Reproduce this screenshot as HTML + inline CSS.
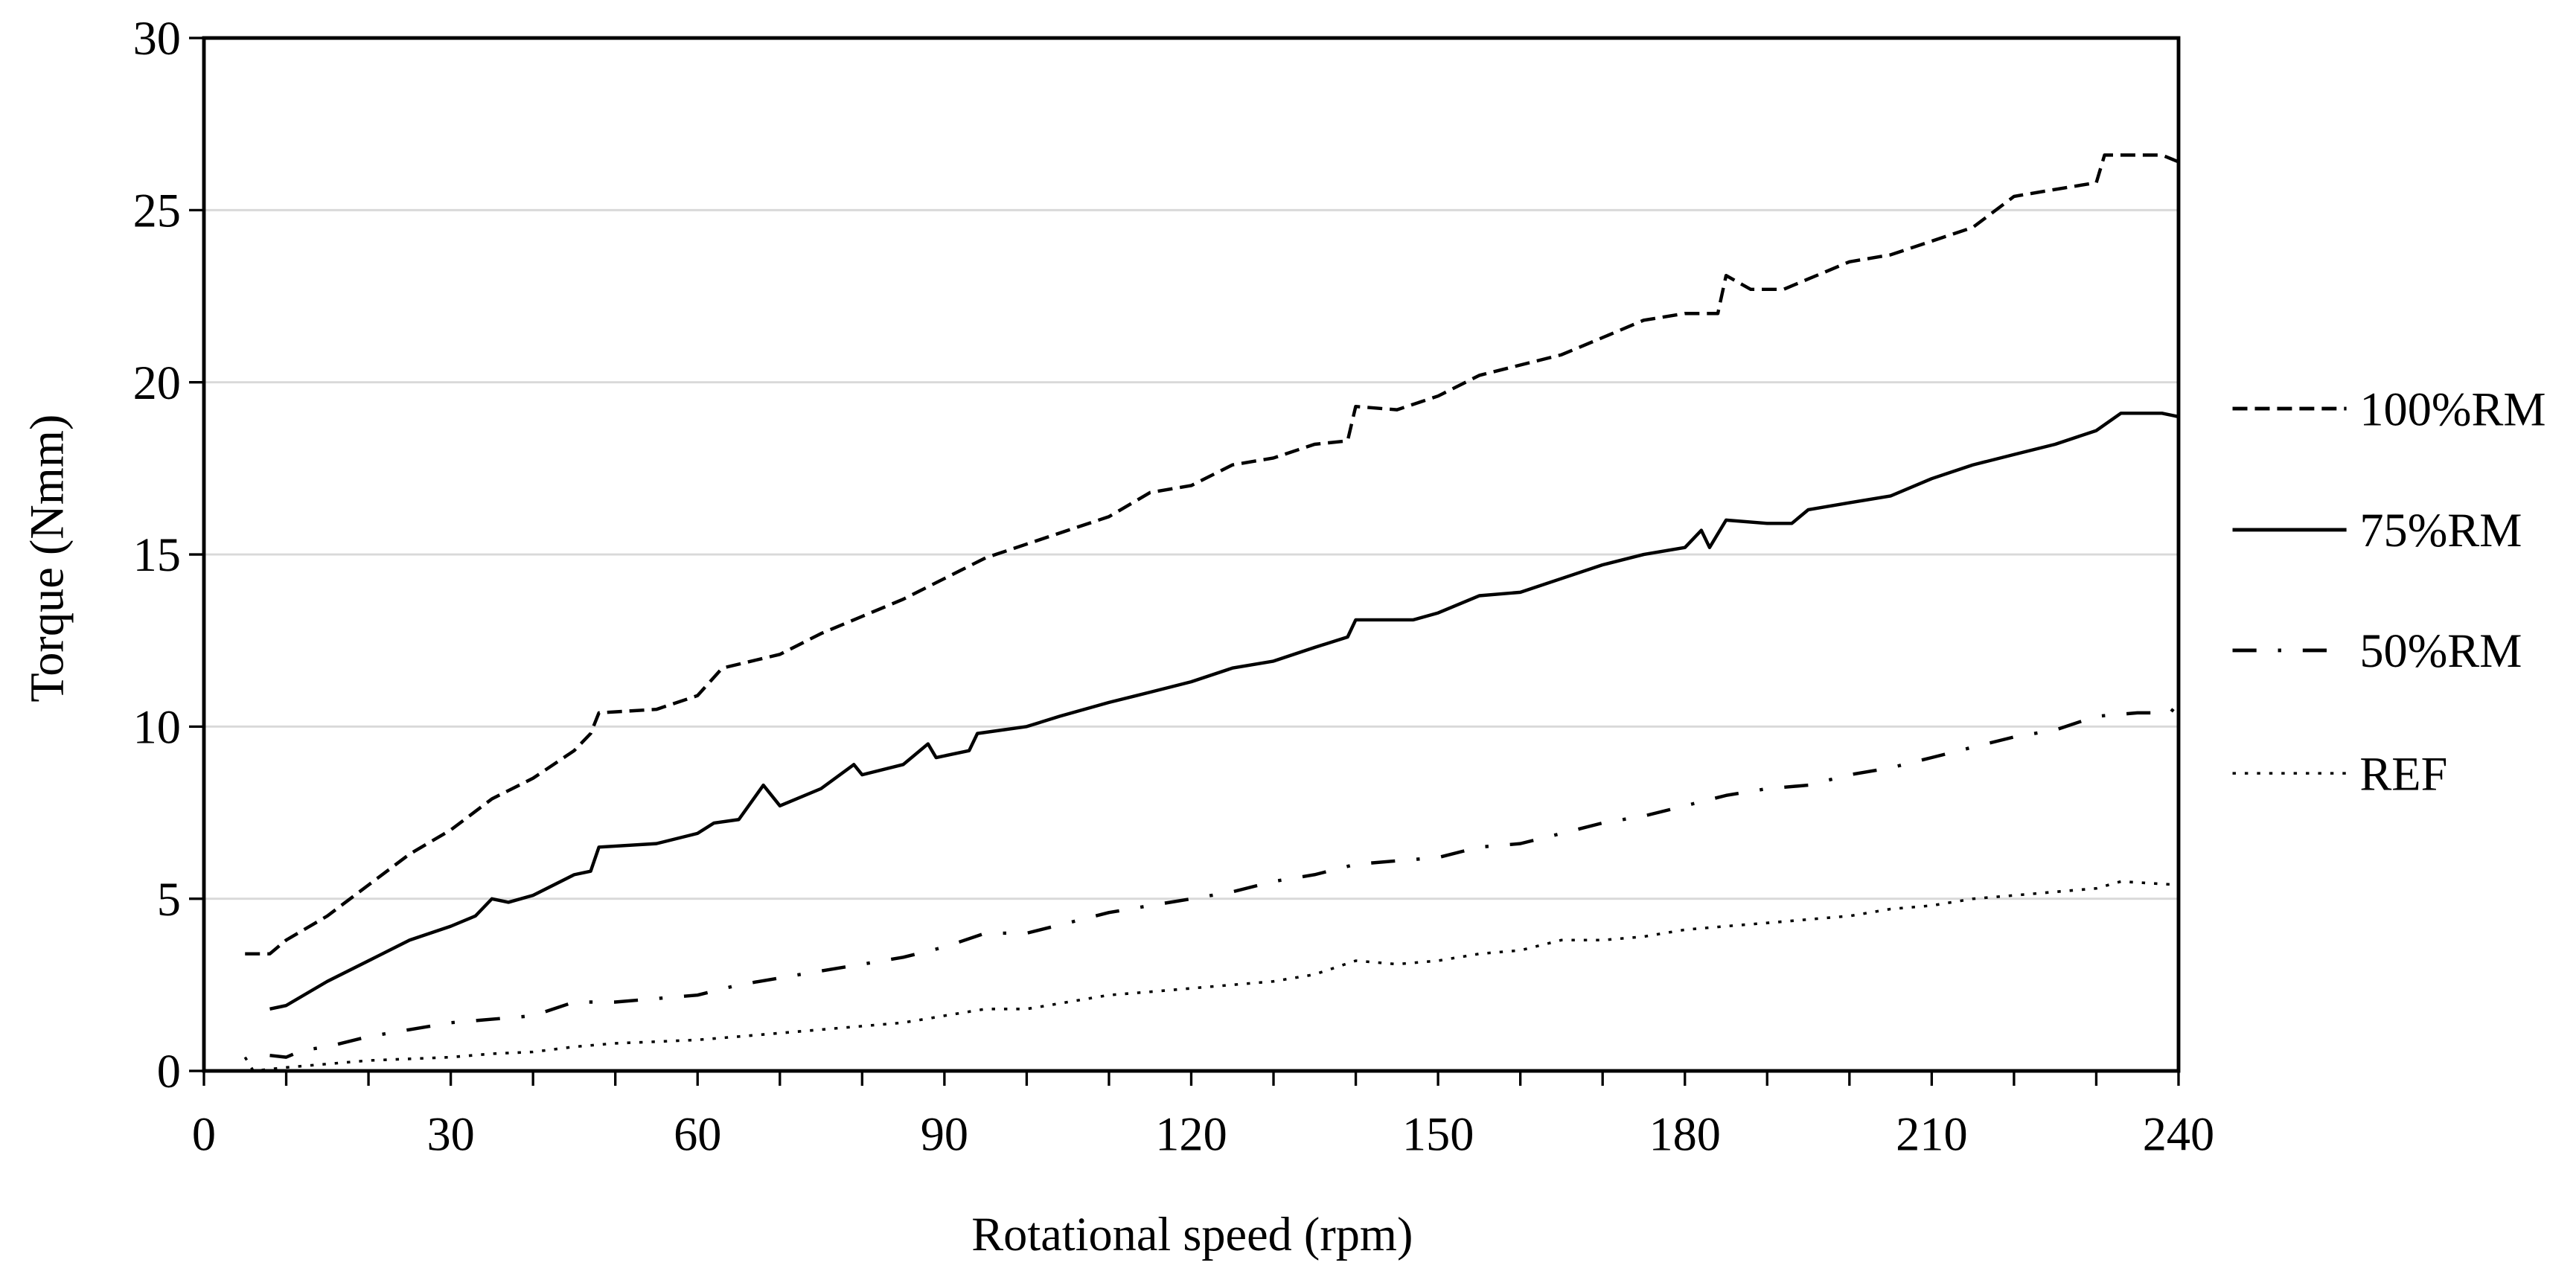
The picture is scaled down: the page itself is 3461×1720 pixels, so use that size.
<!DOCTYPE html>
<html><head><meta charset="utf-8"><style>
html,body{margin:0;padding:0;background:#fff;}
svg{display:block;}
text{font-family:"Liberation Serif",serif;fill:#000;}
</style></head><body>
<svg id="chart" width="3461" height="1720" viewBox="0 0 1560 775" preserveAspectRatio="none" xmlns="http://www.w3.org/2000/svg">
<g id="grid"></g>
<g id="series"></g>
<g id="axes"></g>
<g id="legend"></g>
<text x="722" y="757" font-size="29" text-anchor="middle">Rotational speed (rpm)</text>
<text transform="translate(38,338) rotate(-90)" font-size="29" text-anchor="middle">Torque (Nmm)</text>
</svg>
<script>
const xTicks=[0,30,60,90,120,150,180,210,240];
const yTicks=[0,5,10,15,20,25,30];
const seriesNames=["100%RM","75%RM","50%RM","REF"];
const rm100X=[5,8,10,15,20,25,30,35,40,45,47,48,55,60,63,70,75,80,85,90,95,100,105,110,115,120,125,130,135,139,140,145,150,155,160,165,170,175,180,184,185,188,192,195,200,205,210,215,220,225,230,231,238,240];
const rm100Y=[3.4,3.4,3.8,4.5,5.4,6.3,7.0,7.9,8.5,9.3,9.8,10.4,10.5,10.9,11.7,12.1,12.7,13.2,13.7,14.3,14.9,15.3,15.7,16.1,16.8,17.0,17.6,17.8,18.2,18.3,19.3,19.2,19.6,20.2,20.5,20.8,21.3,21.8,22.0,22.0,23.1,22.7,22.7,23.0,23.5,23.7,24.1,24.5,25.4,25.6,25.8,26.6,26.6,26.4];
const rm75X=[8,10,15,20,25,30,33,35,37,40,45,47,48,55,60,62,65,68,70,75,79,80,85,88,89,93,94,100,104,110,115,120,125,130,135,139,140,147,150,155,160,165,170,175,180,182,183,185,190,193,195,200,205,210,215,220,225,230,233,238,240];
const rm75Y=[1.8,1.9,2.6,3.2,3.8,4.2,4.5,5.0,4.9,5.1,5.7,5.8,6.5,6.6,6.9,7.2,7.3,8.3,7.7,8.2,8.9,8.6,8.9,9.5,9.1,9.3,9.8,10.0,10.3,10.7,11.0,11.3,11.7,11.9,12.3,12.6,13.1,13.1,13.3,13.8,13.9,14.3,14.7,15.0,15.2,15.7,15.2,16.0,15.9,15.9,16.3,16.5,16.7,17.2,17.6,17.9,18.2,18.6,19.1,19.1,19.0];
const rm50X=[8,10,12,15,20,25,30,35,40,45,50,55,60,65,70,75,80,85,90,95,100,105,110,115,120,125,130,135,140,145,150,155,160,165,170,175,180,185,190,195,200,205,210,215,220,225,230,235,239,240];
const rm50Y=[0.45,0.4,0.6,0.7,1.0,1.2,1.4,1.5,1.6,2.0,2.0,2.1,2.2,2.5,2.7,2.9,3.1,3.3,3.6,4.0,4.0,4.3,4.6,4.8,5.0,5.2,5.5,5.7,6.0,6.1,6.2,6.5,6.6,6.9,7.2,7.4,7.7,8.0,8.2,8.3,8.6,8.8,9.1,9.4,9.7,9.9,10.3,10.4,10.4,10.7];
const refX=[5,6,10,15,20,25,30,35,40,45,50,55,60,65,70,75,80,85,90,95,100,105,110,115,120,125,130,135,140,145,150,155,160,165,170,175,180,185,190,195,200,205,210,215,220,225,230,233,240];
const refY=[0.4,0.0,0.1,0.2,0.3,0.35,0.4,0.5,0.55,0.7,0.8,0.85,0.9,1.0,1.1,1.2,1.3,1.4,1.6,1.8,1.8,2.0,2.2,2.3,2.4,2.5,2.6,2.8,3.2,3.1,3.2,3.4,3.5,3.8,3.8,3.9,4.1,4.2,4.3,4.4,4.5,4.7,4.8,5.0,5.1,5.2,5.3,5.5,5.4];

const NS="http://www.w3.org/2000/svg";
const X0=123.5,X1=1319.3,Y0=648.4,Y1=23;
function sx(v){return X0+(X1-X0)*v/240;}
function sy(v){return Y0-(Y0-Y1)*v/30;}
function mk(tag,attrs,parent){const e=document.createElementNS(NS,tag);for(const k in attrs)e.setAttribute(k,attrs[k]);parent.appendChild(e);return e;}
const grid=document.getElementById('grid'),axes=document.getElementById('axes'),series=document.getElementById('series'),legend=document.getElementById('legend');
yTicks.forEach(t=>{
  if(t>0&&t<30){const g=mk('line',{x1:X0,x2:X1,y1:sy(t),y2:sy(t),stroke:'#d9d9d9','stroke-width':1.3},grid);
  
  }
  const tk=mk('line',{x1:X0-9,x2:X0,y1:sy(t),y2:sy(t),stroke:'#000','stroke-width':1.5},axes);
  
  
  const lb=mk('text',{x:X0-14,y:sy(t)+10,'font-size':29,'text-anchor':'end'},axes);lb.textContent=t;
  
  
});
for(let v=0;v<=240;v+=10){
  const tk=mk('line',{x1:sx(v),x2:sx(v),y1:Y0,y2:Y0+9,stroke:'#000','stroke-width':1.5},axes);
  
  
}
xTicks.forEach(t=>{
  const lb=mk('text',{x:sx(t),y:Y0+48,'font-size':29,'text-anchor':'middle'},axes);lb.textContent=t;
  
  
});
const frame=mk('rect',{x:X0,y:Y1,width:X1-X0,height:Y0-Y1,fill:'none',stroke:'#000','stroke-width':2.2},axes);



const styles=[{d:'9 4.5'},{d:''},{d:'14.5 13 2 13'},{d:'2 5.4'}];
const xs=[rm100X,rm75X,rm50X,refX],ys=[rm100Y,rm75Y,rm50Y,refY];
const names=['line-100rm','line-75rm','line-50rm','line-ref'];
const legY=[247.4,320.8,393.8,468.2];
for(let i=0;i<4;i++){
  let d='';xs[i].forEach((x,j)=>{d+=(j?'L':'M')+sx(x).toFixed(1)+','+sy(ys[i][j]).toFixed(1);});
  const p=mk('path',{d:d,fill:'none',stroke:'#000','stroke-width':i==3?1.6:2,'stroke-dasharray':styles[i].d,'stroke-linejoin':'round'},series);
  
  
  const ll=mk('line',{x1:1352,x2:1421,y1:legY[i],y2:legY[i],stroke:'#000','stroke-width':i==3?1.6:2.2,'stroke-dasharray':styles[i].d},legend);
  
  
  const lt=mk('text',{x:1429,y:legY[i]+10,'font-size':29},legend);lt.textContent=seriesNames[i];
  
  
}
</script>
</body></html>
